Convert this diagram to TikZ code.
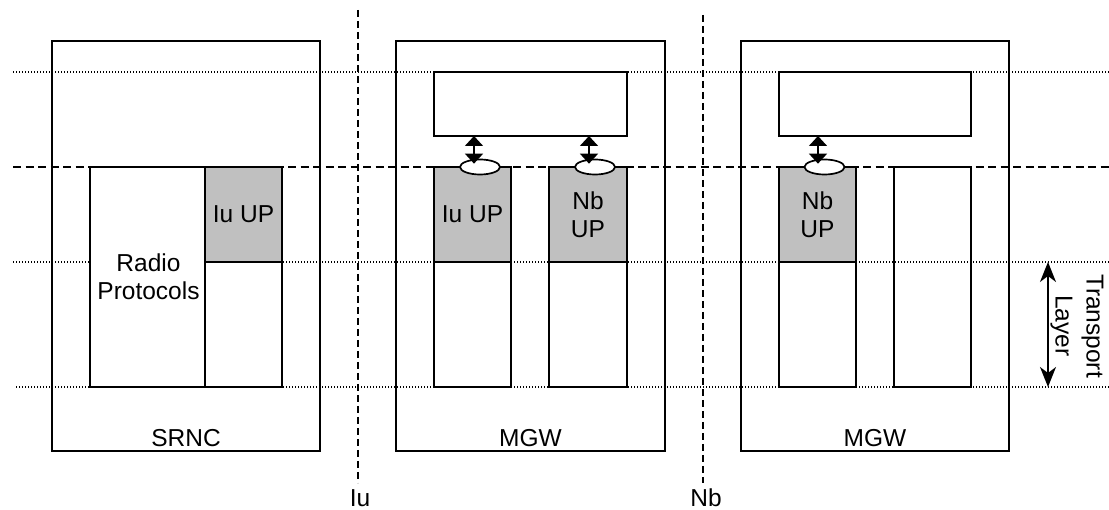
\documentclass[tikz,border=0pt]{standalone}
\usepackage{fontspec}
\setmainfont{Liberation Sans}
\usetikzlibrary{arrows.meta,shapes.geometric}
\definecolor{upgray}{RGB}{192,192,192}
\begin{document}
\begin{tikzpicture}[x=1pt,y=-1pt,
  box/.style={draw,line width=1.8pt,fill=white,inner sep=0pt,outer sep=0pt,anchor=north west},
  upbox/.style={box,fill=upgray},
  outerbox/.style={box,fill=none},
  dotline/.style={line width=1.2pt,dash pattern=on 1.2pt off 1.8pt},
  dashline/.style={line width=1.6pt,dash pattern=on 8pt off 4.5pt},
  lbl/.style={font=\fontsize{24.5}{28}\selectfont,align=center,inner sep=0pt},
  sap/.style={ellipse,draw,line width=1.7pt,fill=white,minimum width=40pt,minimum height=15pt,inner sep=0pt},
  biarrow/.style={line width=1.6pt,{Triangle[width=18pt,length=10pt]}-{Triangle[width=18pt,length=10pt]}},
  tlarrow/.style={line width=1.8pt,{Stealth[width=16pt,length=20pt,inset=6pt]}-{Stealth[width=16pt,length=20pt,inset=6pt]}}
]
\useasboundingbox[fill=white] (0,0) rectangle (1109,510);

% layer lines
\coordinate (d1l) at (13,72);   \coordinate (d1r) at (1109,72);
\coordinate (hl)  at (13,167);  \coordinate (hr)  at (1109,167);
\coordinate (d2l) at (13,262);  \coordinate (d2r) at (1109,262);
\coordinate (d3l) at (16,387);  \coordinate (d3r) at (1109,387);
\draw[dotline] (d1l) -- (d1r);
\draw[dashline] (hl) -- (hr);
\draw[dotline] (d2l) -- (d2r);
\draw[dotline] (d3l) -- (d3r);

% interface lines
\coordinate (iut) at (358,10); \coordinate (iub) at (358,483);
\coordinate (nbt) at (703,15); \coordinate (nbb) at (703,483);
\draw[dashline,dash pattern=on 7pt off 4pt] (iut) -- (iub);
\draw[dashline,dash pattern=on 7pt off 4pt] (nbt) -- (nbb);
\node[lbl,anchor=base] (iulbl) at (360,507) {Iu};
\node[lbl,anchor=base] (nblbl) at (706,507) {Nb};

% SRNC
\node[outerbox,minimum width=268pt,minimum height=410pt] (srnc) at (52,41) {};
\node[box,minimum width=115pt,minimum height=220pt] (radio) at (90,167) {};
\node[upbox,minimum width=77pt,minimum height=95pt] (siu) at (205,167) {};
\node[box,minimum width=77pt,minimum height=125pt] (siul) at (205,262) {};
\node[lbl] at ([xshift=1pt]radio.center) {Radio\\Protocols};
\node[lbl] at (siu.center) {Iu UP};
\node[lbl,anchor=base] at ([yshift=4pt]srnc.south) {SRNC};

% MGW 1
\node[outerbox,minimum width=269pt,minimum height=410pt] (mgw1) at (396,41) {};
\node[box,minimum width=193pt,minimum height=64pt] (ctrl1) at (434,72) {};
\node[upbox,minimum width=77pt,minimum height=95pt] (miu) at (434,167) {};
\node[box,minimum width=77pt,minimum height=125pt] (miul) at (434,262) {};
\node[upbox,minimum width=78pt,minimum height=95pt] (mnb) at (549,167) {};
\node[box,minimum width=78pt,minimum height=125pt] (mnbl) at (549,262) {};
\node[lbl] at (miu.center) {Iu UP};
\node[lbl] at (mnb.center) {Nb\\UP};
\node[lbl,anchor=base] at ([yshift=4pt]mgw1.south) {MGW};
\node[sap] (e1) at (480,167) {};
\node[sap] (e2) at (595,167) {};
\draw[biarrow] ([xshift=-6pt]e1.north |- ctrl1.south) -- ([xshift=-6pt,yshift=-5pt]e1.north);
\draw[biarrow] ([xshift=-6pt]e2.north |- ctrl1.south) -- ([xshift=-6pt,yshift=-5pt]e2.north);

% MGW 2
\node[outerbox,minimum width=268pt,minimum height=410pt] (mgw2) at (741,41) {};
\node[box,minimum width=192pt,minimum height=64pt] (ctrl2) at (779,72) {};
\node[upbox,minimum width=77pt,minimum height=95pt] (m2nb) at (779,167) {};
\node[box,minimum width=77pt,minimum height=125pt] (m2nbl) at (779,262) {};
\node[outerbox,minimum width=77pt,minimum height=220pt] (m2col) at (894,167) {};
\node[lbl] at (m2nb.center) {Nb\\UP};
\node[lbl,anchor=base] at ([yshift=4pt]mgw2.south) {MGW};
\node[sap] (e3) at (824.5,167) {};
\draw[biarrow] ([xshift=-6.5pt]e3.north |- ctrl2.south) -- ([xshift=-6.5pt,yshift=-5pt]e3.north);

% Transport layer
\coordinate (tlt) at (1048,262); \coordinate (tlb) at (1048,387);
\draw[tlarrow] (tlt) -- (tlb);
\node[lbl,rotate=-90,font=\fontsize{24.5}{31}\selectfont] (tl) at (1077,326) {Transport\\Layer};
\end{tikzpicture}
\end{document}
